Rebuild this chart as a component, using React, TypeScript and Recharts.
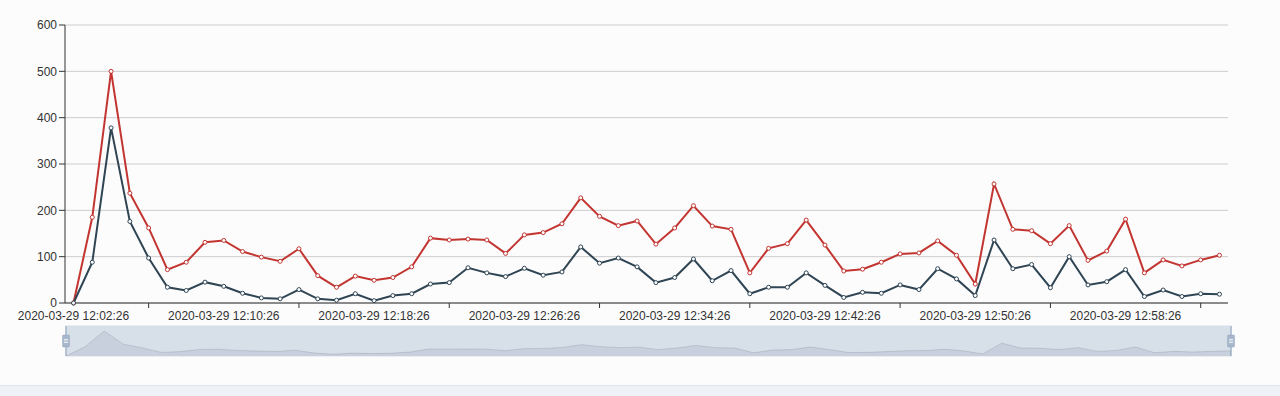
import React from 'react';
import { LineChart, Line, XAxis, YAxis, CartesianGrid, Brush, AreaChart, Area } from 'recharts';

const times = [
  '2020-03-29 12:02:26', '2020-03-29 12:03:26', '2020-03-29 12:04:26', '2020-03-29 12:05:26',
  '2020-03-29 12:06:26', '2020-03-29 12:07:26', '2020-03-29 12:08:26', '2020-03-29 12:09:26',
  '2020-03-29 12:10:26', '2020-03-29 12:11:26', '2020-03-29 12:12:26', '2020-03-29 12:13:26',
  '2020-03-29 12:14:26', '2020-03-29 12:15:26', '2020-03-29 12:16:26', '2020-03-29 12:17:26',
  '2020-03-29 12:18:26', '2020-03-29 12:19:26', '2020-03-29 12:20:26', '2020-03-29 12:21:26',
  '2020-03-29 12:22:26', '2020-03-29 12:23:26', '2020-03-29 12:24:26', '2020-03-29 12:25:26',
  '2020-03-29 12:26:26', '2020-03-29 12:27:26', '2020-03-29 12:28:26', '2020-03-29 12:29:26',
  '2020-03-29 12:30:26', '2020-03-29 12:31:26', '2020-03-29 12:32:26', '2020-03-29 12:33:26',
  '2020-03-29 12:34:26', '2020-03-29 12:35:26', '2020-03-29 12:36:26', '2020-03-29 12:37:26',
  '2020-03-29 12:38:26', '2020-03-29 12:39:26', '2020-03-29 12:40:26', '2020-03-29 12:41:26',
  '2020-03-29 12:42:26', '2020-03-29 12:43:26', '2020-03-29 12:44:26', '2020-03-29 12:45:26',
  '2020-03-29 12:46:26', '2020-03-29 12:47:26', '2020-03-29 12:48:26', '2020-03-29 12:49:26',
  '2020-03-29 12:50:26', '2020-03-29 12:51:26', '2020-03-29 12:52:26', '2020-03-29 12:53:26',
  '2020-03-29 12:54:26', '2020-03-29 12:55:26', '2020-03-29 12:56:26', '2020-03-29 12:57:26',
  '2020-03-29 12:58:26', '2020-03-29 12:59:26', '2020-03-29 13:00:26', '2020-03-29 13:01:26',
  '2020-03-29 13:02:26', '2020-03-29 13:03:26',
];

const redValues = [
  0, 185, 500, 237, 162, 72, 88, 131, 135, 111, 99, 90, 117, 59,
  34, 58, 49, 55, 78, 140, 136, 138, 136, 107, 147, 152, 171, 227, 187, 167,
  177, 127, 162, 210, 166, 159, 65, 118, 128, 179, 125, 69, 73, 88, 106, 108, 134,
  103, 41, 257, 159, 156, 128, 167, 92, 112, 181, 65, 93, 80, 93, 103,
];

const darkValues = [
  0, 88, 378, 176, 97, 34, 27, 45, 36, 21, 11, 9, 29, 9,
  6, 20, 5, 16, 20, 41, 44, 76, 65, 57, 75, 60, 67, 121, 86, 97,
  78, 44, 55, 95, 48, 70, 20, 34, 34, 65, 38, 12, 23, 21, 39, 29, 74,
  52, 16, 136, 74, 83, 33, 100, 39, 46, 72, 14, 28, 14, 20, 19,
];

const yTicks = [0, 100, 200, 300, 400, 500, 600];

const data = times.map((t, i) => ({ time: t, red: redValues[i], dark: darkValues[i] }));

const FONT = '"Liberation Sans", Arial, sans-serif';

// labels every 8th category, tick marks offset by 4
const XTick = (props: any) => {
  const { x, y, index, payload } = props;
  return (
    <g>
      {index % 8 === 4 && <line x1={x} x2={x} y1={y - 8} y2={y - 3} stroke="#333" />}
      {index % 8 === 0 && (
        <text x={x} y={y} dy="0.71em" textAnchor="middle" fill="#333" fontSize={12} fontFamily={FONT}>
          {payload.value}
        </text>
      )}
    </g>
  );
};

const Handle = (p: any) => {
  const hy = p.y + p.height * 0.3;
  const hh = p.height * 0.4;
  return (
    <g>
      <rect x={p.x - 0.75} y={p.y} width={1.5} height={p.height} fill="#a7b7cc" />
      <rect x={p.x - 3.5} y={hy} width={7} height={hh} rx={1} fill="#a7b7cc" stroke="#97a7bc" strokeWidth={0.5} />
      <line x1={p.x - 2} x2={p.x + 2} y1={hy + hh * 0.4} y2={hy + hh * 0.4} stroke="#fff" />
      <line x1={p.x - 2} x2={p.x + 2} y1={hy + hh * 0.6} y2={hy + hh * 0.6} stroke="#fff" />
    </g>
  );
};

export default function App() {
  return (
    <div style={{ position: 'absolute', left: 0, top: 0, width: 1280, height: 396, background: '#fcfcfc', overflow: 'hidden' }}>
      <LineChart width={1280} height={370} data={data} margin={{ top: 25, right: 52, left: 5, bottom: 7 }}>
        <CartesianGrid vertical={false} stroke="#ccc" />
        <XAxis
          dataKey="time"
          interval={0}
          tickLine={false}
          tick={<XTick />}
          stroke="#333"
          padding={{ left: 8.5, right: 8.5 }}
          height={30}
        />
        <YAxis
          domain={[0, 600]}
          ticks={yTicks}
          width={60}
          stroke="#333"
          tick={{ fill: '#333', fontSize: 12, fontFamily: FONT }}
        />
        <Line
          dataKey="red"
          stroke="#c23531"
          strokeWidth={2}
          dot={{ r: 2, fill: '#fff', stroke: '#c23531', strokeWidth: 1 }}
          activeDot={false}
          isAnimationActive={false}
        />
        <Line
          dataKey="dark"
          stroke="#2f4554"
          strokeWidth={2}
          dot={{ r: 2, fill: '#fff', stroke: '#2f4554', strokeWidth: 1 }}
          activeDot={false}
          isAnimationActive={false}
        />
        <Brush
          dataKey="time"
          x={66}
          y={326}
          width={1165}
          height={30}
          travellerWidth={0}
          fill="#d8dfe9"
          stroke="#d8dfe9"
          traveller={(p: any) => <Handle {...p} />}
        />
      </LineChart>
      {/* data shadow inside the zoom slider */}
      <div style={{ position: 'absolute', left: 66, top: 326, pointerEvents: 'none' }}>
        <AreaChart width={1165} height={30} data={data} margin={{ top: 0, right: 0, left: 0, bottom: 0 }}>
          <XAxis dataKey="time" hide />
          <YAxis domain={[0, 600]} hide />
          <Area
            dataKey="red"
            stroke="#2f4554"
            strokeOpacity={0.3}
            strokeWidth={0.5}
            fill="#2f4554"
            fillOpacity={0.09}
            dot={false}
            activeDot={false}
            isAnimationActive={false}
          />
        </AreaChart>
      </div>
      <div style={{ position: 'absolute', left: 0, top: 385, width: 1280, height: 11, background: '#eef1f5', borderTop: '1px solid #e1e6ec' }} />
    </div>
  );
}
